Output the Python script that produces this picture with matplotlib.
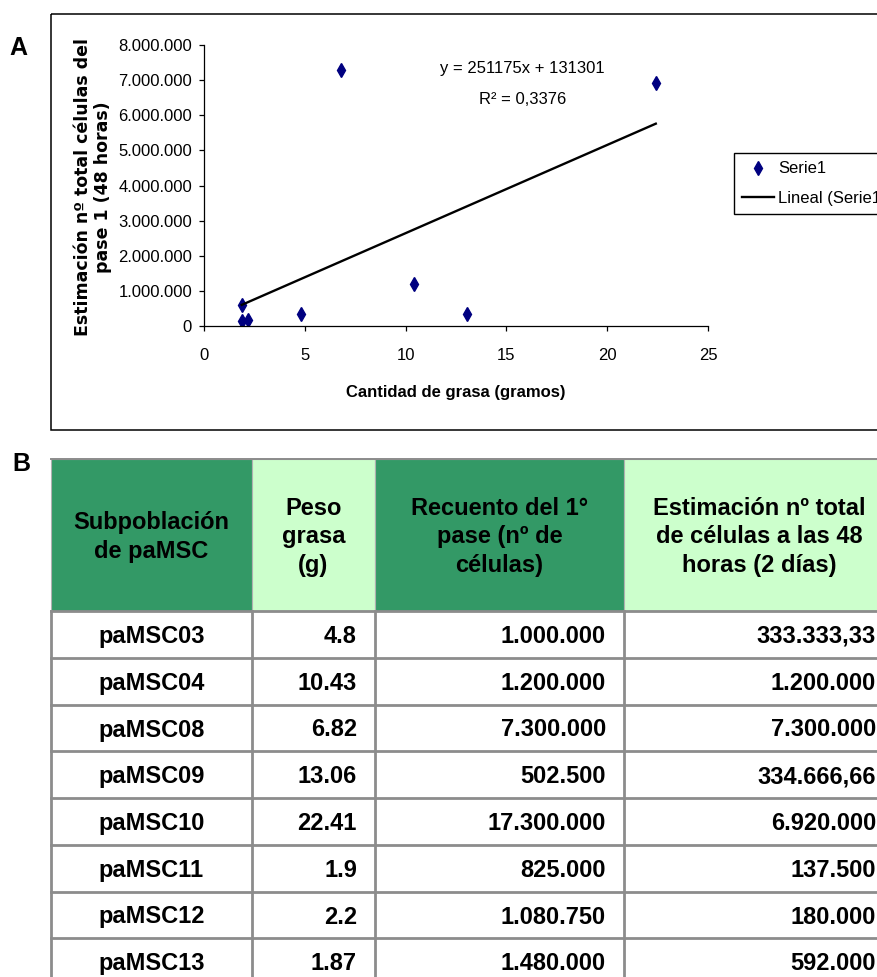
import matplotlib
matplotlib.use("Agg")
import matplotlib.pyplot as plt
from matplotlib.patches import Rectangle

plt.rcParams['font.family'] = ['Liberation Sans', 'DejaVu Sans']

# data from the table
samples = ['paMSC03', 'paMSC04', 'paMSC08', 'paMSC09', 'paMSC10', 'paMSC11', 'paMSC12', 'paMSC13']
fat_weight = [4.8, 10.43, 6.82, 13.06, 22.41, 1.9, 2.2, 1.87]
first_count = [1000000, 1200000, 7300000, 502500, 17300000, 825000, 1080750, 1480000]
est_48h = [333333.33, 1200000, 7300000, 334666.66, 6920000, 137500, 180000, 592000]

# Excel trendline
slope = 251175
intercept = 131301
r2 = '0,3376'

headers = [['Subpoblación', 'de paMSC'],
           ['Peso', 'grasa', '(g)'],
           ['Recuento del 1°', 'pase (nº de', 'células)'],
           ['Estimación nº total', 'de células a las 48', 'horas (2 días)']]


def fmt_es(v):
    if float(v).is_integer():
        return f"{int(v):,}".replace(',', '.')
    s = f"{v:,.2f}"
    return s.replace(',', '#').replace('.', ',').replace('#', '.')


W, H = 878, 977
fig = plt.figure(figsize=(W / 100, H / 100), dpi=100)

# overlay in pixel coordinates for the frame, panel letters and the table
ov = fig.add_axes([0, 0, 1, 1])
ov.set_xlim(0, W)
ov.set_ylim(H, 0)
ov.axis('off')

ov.add_patch(Rectangle((51, 13.5), 900, 416.5, fill=False, ec='black', lw=1.1))
ov.text(9, 55, 'A', fontsize=18, fontweight='bold', va='baseline', ha='left')
ov.text(12, 471, 'B', fontsize=18, fontweight='bold', va='baseline', ha='left')

# scatter panel
left, right, top, bottom = 204, 708, 45, 326
ax = fig.add_axes([left / W, 1 - bottom / H, (right - left) / W, (bottom - top) / H])
ax.set_facecolor('none')
ax.plot(fat_weight, est_48h, linestyle='none', marker='d', color='#000080',
        markersize=7.5, label='Serie1')
xs = [min(fat_weight), max(fat_weight)]
ax.plot(xs, [slope * x + intercept for x in xs], color='black', lw=1.7,
        label='Lineal (Serie1)')
ax.set_xlim(0, 25)
ax.set_ylim(0, 8000000)
ax.set_xticks(range(0, 26, 5))
ax.set_yticks(range(0, 8000001, 1000000))
ax.set_yticklabels([fmt_es(v) for v in range(0, 8000001, 1000000)])
for s in ['top', 'right']:
    ax.spines[s].set_visible(False)
for s in ['left', 'bottom']:
    ax.spines[s].set_linewidth(0.9)
ax.tick_params(axis='both', labelsize=12, length=3.6, width=0.9)
ax.tick_params(axis='y', pad=5)
ax.tick_params(axis='x', pad=12)

ax.text(522, 69, f'y = {slope}x + {intercept}', fontsize=12, ha='center', va='center',
        transform=ov.transData)
ax.text(523, 100, f'R² = {r2}', fontsize=12, ha='center', va='center',
        transform=ov.transData)

ov.text(456, 393, 'Cantidad de grasa (gramos)', fontsize=12, fontweight='bold',
        ha='center', va='center')
ov.text(93, 187, 'Estimación nº total células del\npase 1 (48 horas)', rotation=90,
        fontsize=12.5, fontweight='bold', family='DejaVu Sans', ha='center', va='center',
        multialignment='center')

ax.legend(loc='upper left', bbox_to_anchor=(734 / W, 1 - 153 / H), bbox_transform=fig.transFigure,
          borderaxespad=0, fontsize=12, frameon=True, fancybox=False, edgecolor='black',
          labelspacing=0.85, handlelength=1.9, handletextpad=0.25, borderpad=0.5,
          framealpha=1).get_frame().set_linewidth(1.0)

# table
col_x = [51, 252, 375, 624, 894]
head_top, head_bot = 459, 611
row_h = 46.75
header_fill = ['#339966', '#CCFFCC', '#339966', '#CCFFCC']
grid_col = '#8c8c8c'

for j, lines in enumerate(headers):
    x0, x1 = col_x[j], col_x[j + 1]
    ov.add_patch(Rectangle((x0, head_top), x1 - x0, head_bot - head_top, fc=header_fill[j],
                           ec='#b0b0b0', lw=0.8))
    first = 529.5 if len(lines) == 2 else 514.7
    for k, line in enumerate(lines):
        ov.text((x0 + x1) / 2, first + 28.5 * k, line, fontsize=17, fontweight='bold',
                ha='center', va='baseline')
ov.plot([col_x[0], col_x[-1]], [head_top, head_top], color=grid_col, lw=1.4)

n = len(samples)
rows = [[samples[i], str(fat_weight[i]), fmt_es(first_count[i]), fmt_es(est_48h[i])]
        for i in range(n)]
for i, row in enumerate(rows):
    y0 = head_bot + row_h * i
    for j, txt in enumerate(row):
        if j == 0:
            ov.text((col_x[0] + col_x[1]) / 2, y0 + 32, txt, fontsize=17, fontweight='bold',
                    ha='center', va='baseline')
        else:
            ov.text(col_x[j + 1] - 18, y0 + 32, txt, fontsize=17, fontweight='bold',
                    ha='right', va='baseline')

for i in range(n + 1):
    y = head_bot + row_h * i
    ov.plot([col_x[0], col_x[-1]], [y, y], color=grid_col, lw=2.0)
for x in col_x:
    ov.plot([x, x], [head_bot, head_bot + row_h * n], color=grid_col, lw=2.0)

fig.savefig('out.png', dpi=100)
